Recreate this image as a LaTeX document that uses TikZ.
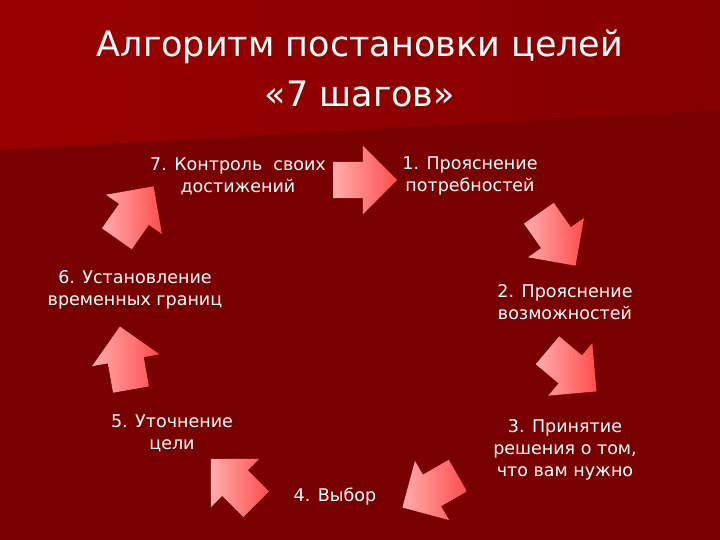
\documentclass[tikz,border=0pt]{standalone}
\usepackage{fontspec}
\setmainfont{DejaVu Sans}
\usetikzlibrary{shapes.arrows}
\begin{document}
\begin{tikzpicture}[x=1pt,y=1pt,
  blk/.style={single arrow, draw=none, inner xsep=0pt, inner ysep=18pt, minimum height=64pt,
    single arrow head extend=16pt, single arrow head indent=0pt,
    left color=red!20!pink!80!white, right color=red!70!white},
  lbl/.style={text=white, font=\fontsize{17.5}{22}\selectfont, align=center}]
\useasboundingbox (0,0) rectangle (720,-540);
\fill[red!47!black] (0,0) rectangle (720,-540);
\shade[left color=red!60!black, right color=red!52!black] (0,0) -- (720,0) -- (720,-110) -- (0,-150) -- cycle;
\node[text=white, font=\fontsize{35}{50}\selectfont, align=center] (title) at (360,-68) {Алгоритм постановки целей\\«7 шагов»};
\node[blk] (a1) at (356,-180) {};
\node[blk, rotate=-55] (a2) at (552,-232) {};
\node[blk, rotate=-40] (a3) at (565,-365) {};
\node[blk, rotate=-150] (a4) at (438,-487) {};
\node[blk, rotate=135] (a5) at (240,-488) {};
\node[blk, rotate=100] (a6) at (127,-367) {};
\node[blk, rotate=55] (a7) at (130,-220) {};
\node[lbl] (s7) at (238,-176) {7. Контроль\ \ своих\\достижений};
\node[lbl] (s1) at (470,-176) {1. Прояснение\\потребностей};
\node[lbl] (s6) at (135,-290) {6. Установление\\временных границ};
\node[lbl] (s2) at (565,-302) {2. Прояснение\\возможностей};
\node[lbl] (s5) at (172,-433) {5. Уточнение\\цели};
\node[lbl] (s3) at (565,-450) {3. Принятие\\решения о том,\\что вам нужно};
\node[lbl] (s4) at (335,-497) {4. Выбор};
\end{tikzpicture}
\end{document}
